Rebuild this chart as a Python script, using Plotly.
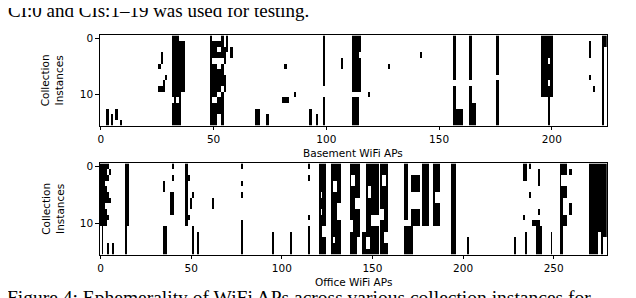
import numpy as np
import plotly.graph_objects as go

N_ROWS = 16
basement_n_aps = 225
office_n_aps = 280

# Rectangles: (col_start, col_end, row_start, row_end), inclusive.
# "present" cells are black (AP seen), "absent" carve white holes afterwards.
basement_present = [
    (3, 3, 13, 15), (5, 5, 14, 15), (7, 7, 13, 14), (9, 9, 15, 15),
    (26, 26, 5, 5), (27, 27, 3, 4), (29, 29, 7, 7), (28, 28, 8, 8), (26, 28, 9, 9),
    (32, 34, 0, 10), (35, 37, 1, 9), (33, 33, 8, 11), (35, 35, 10, 15), (32, 34, 12, 15),
    (49, 49, 0, 15), (50, 51, 1, 3), (50, 51, 5, 10), (50, 51, 12, 15),
    (52, 53, 1, 1), (52, 53, 3, 3), (52, 53, 6, 9), (52, 53, 11, 13),
    (54, 54, 0, 3), (54, 54, 5, 8), (54, 54, 10, 15), (55, 55, 2, 4), (55, 55, 7, 9),
    (56, 56, 0, 2), (58, 58, 2, 3),
    (69, 70, 13, 15), (74, 74, 14, 15),
    (82, 82, 5, 5), (86, 86, 10, 10), (81, 83, 11, 11), (93, 93, 13, 15), (96, 96, 14, 15),
    (99, 99, 0, 8), (99, 99, 11, 15), (107, 107, 4, 5),
    (112, 114, 0, 9), (112, 114, 11, 15), (115, 115, 0, 2), (115, 115, 4, 9),
    (119, 119, 10, 10), (128, 128, 5, 5), (142, 142, 3, 3),
    (157, 157, 0, 7), (157, 157, 9, 15), (158, 160, 13, 15),
    (164, 164, 0, 7), (164, 164, 9, 15), (165, 166, 12, 15),
    (176, 176, 0, 6), (176, 176, 8, 15),
    (196, 200, 0, 10), (199, 199, 11, 15),
    (217, 217, 1, 3), (217, 217, 7, 7), (219, 219, 9, 9),
    (223, 223, 0, 15), (224, 224, 0, 1),
]
basement_absent = [
    (199, 199, 4, 4), (199, 199, 8, 8),
]

office_present = [
    (0, 2, 0, 10), (3, 3, 0, 2), (3, 3, 4, 6), (3, 3, 8, 10), (4, 4, 0, 0),
    (4, 4, 2, 2), (4, 4, 5, 6), (4, 4, 9, 9), (5, 5, 1, 1), (5, 5, 6, 6),
    (1, 1, 11, 15), (4, 4, 14, 15), (7, 7, 14, 15),
    (14, 15, 0, 10), (14, 14, 11, 15),
    (40, 40, 0, 0), (40, 40, 2, 2), (35, 35, 3, 4), (39, 40, 5, 6), (39, 40, 7, 8),
    (35, 36, 11, 15),
    (47, 48, 0, 10), (49, 49, 2, 2), (51, 51, 5, 5), (50, 50, 6, 7), (49, 49, 9, 9),
    (51, 51, 11, 15), (54, 54, 12, 15), (62, 62, 6, 7),
    (78, 78, 0, 0), (78, 78, 3, 3), (78, 78, 5, 5), (78, 78, 10, 15),
    (95, 95, 12, 15), (105, 105, 12, 15),
    (115, 115, 0, 0), (115, 115, 2, 2), (115, 115, 9, 9), (115, 115, 11, 15),
    (121, 124, 0, 15), (128, 132, 0, 15),
    (138, 143, 0, 15), (145, 146, 12, 15), (147, 153, 0, 15), (155, 158, 0, 15),
    (168, 169, 0, 9), (168, 172, 11, 15), (172, 176, 2, 4), (172, 176, 8, 10),
    (178, 181, 0, 10), (184, 187, 0, 10), (194, 196, 0, 15), (203, 203, 13, 15),
    (229, 229, 13, 15), (234, 235, 0, 2), (237, 237, 0, 0), (237, 237, 5, 5),
    (242, 242, 1, 3), (242, 242, 8, 8), (234, 234, 9, 9), (239, 242, 10, 10),
    (241, 243, 11, 15), (235, 235, 12, 15), (249, 249, 12, 15),
    (254, 257, 0, 15), (259, 260, 1, 1), (259, 260, 7, 8),
    (270, 279, 0, 15),
]
office_absent = [
    (122, 122, 5, 5), (122, 122, 8, 8), (123, 124, 11, 12),
    (129, 130, 3, 4), (131, 132, 7, 9), (129, 129, 13, 13),
    (139, 140, 2, 3), (141, 143, 6, 7), (138, 139, 10, 11), (142, 143, 13, 15),
    (148, 149, 4, 5), (150, 153, 9, 10), (147, 148, 13, 14),
    (156, 157, 2, 3), (155, 156, 8, 9), (157, 158, 12, 13),
    (176, 179, 13, 15), (185, 187, 5, 6),
    (255, 257, 2, 3), (256, 257, 6, 8), (256, 257, 11, 15),
    (275, 276, 12, 15), (278, 279, 13, 15),
]

basement_ticks = [0, 50, 100, 150, 200]
office_ticks = [0, 50, 100, 150, 200, 250]


def build(n_cols, present, absent):
    z = np.zeros((N_ROWS, n_cols))
    for c0, c1, r0, r1 in present:
        z[r0:r1 + 1, c0:c1 + 1] = 1
    for c0, c1, r0, r1 in absent:
        z[r0:r1 + 1, c0:c1 + 1] = 0
    return z


z_top = build(basement_n_aps, basement_present, basement_absent)
z_bot = build(office_n_aps, office_present, office_absent)

W, H = 636, 298
def px_x(x):
    return x / W
def px_y(y):
    return 1 - y / H

fig = go.Figure()
cs = [[0, "white"], [1, "black"]]
fig.add_trace(go.Heatmap(z=z_top, x=list(range(basement_n_aps)), y=list(range(N_ROWS)),
                         colorscale=cs, zmin=0, zmax=1, showscale=False,
                         xaxis="x", yaxis="y", hoverinfo="skip"))
fig.add_trace(go.Heatmap(z=z_bot, x=list(range(office_n_aps)), y=list(range(N_ROWS)),
                         colorscale=cs, zmin=0, zmax=1, showscale=False,
                         xaxis="x2", yaxis="y2", hoverinfo="skip"))

tickfont = dict(family="DejaVu Sans", size=10.5, color="black")
common = dict(showline=True, mirror=True, linecolor="black", linewidth=0.8,
              ticks="outside", ticklen=3.5, tickwidth=0.8, tickcolor="black",
              showgrid=False, zeroline=False, tickfont=tickfont)

L, R = 90, 599
top_y0, top_y1 = 24.7, 115.7
bot_y0, bot_y1 = 154, 246

fig.update_layout(
    width=W, height=H, margin=dict(l=0, r=0, t=0, b=0),
    paper_bgcolor="white", plot_bgcolor="white", showlegend=False,
    xaxis=dict(domain=[px_x(L), px_x(R)], range=[-0.5, basement_n_aps - 0.5],
               tickvals=basement_ticks, anchor="y", **common),
    yaxis=dict(domain=[px_y(top_y1), px_y(top_y0)], range=[N_ROWS - 0.5, -0.5],
               tickvals=[0, 10], anchor="x", **common),
    xaxis2=dict(domain=[px_x(L), px_x(R)], range=[-0.5, office_n_aps - 0.5],
                tickvals=office_ticks, anchor="y2", **common),
    yaxis2=dict(domain=[px_y(bot_y1), px_y(bot_y0)], range=[N_ROWS - 0.5, -0.5],
                tickvals=[0, 10], anchor="x2", **common),
)

lab = dict(family="DejaVu Sans", size=10.5, color="black")
ann = [
    dict(text="Basement WiFi APs", x=px_x((L + R) / 2), y=px_y(143), xanchor="center", yanchor="middle"),
    dict(text="Office WiFi APs", x=px_x((L + R) / 2), y=px_y(274), xanchor="center", yanchor="middle"),
    dict(text="Collection<br>Instances", x=px_x(43), y=px_y((top_y0 + top_y1) / 2), xanchor="center",
         yanchor="middle", textangle=-90),
    dict(text="Collection<br>Instances", x=px_x(43), y=px_y((bot_y0 + bot_y1) / 2), xanchor="center",
         yanchor="middle", textangle=-90),
]
for a in ann:
    fig.add_annotation(xref="paper", yref="paper", showarrow=False, font=lab, **a)

serif = dict(family="Liberation Serif", size=19, color="black")
fig.add_annotation(xref="paper", yref="paper", showarrow=False, font=serif,
                   text="CI:0 and CIs:1–19 was used for testing.", x=px_x(-4), y=px_y(-13),
                   xanchor="left", yanchor="top")
fig.add_annotation(xref="paper", yref="paper", showarrow=False,
                   font=dict(family="Liberation Serif", size=19.5, color="black"),
                   text="Figure 4: Ephemerality of WiFi APs across various collection instances for",
                   x=px_x(-5), y=px_y(277), xanchor="left", yanchor="top")

fig.write_html("out.html")
